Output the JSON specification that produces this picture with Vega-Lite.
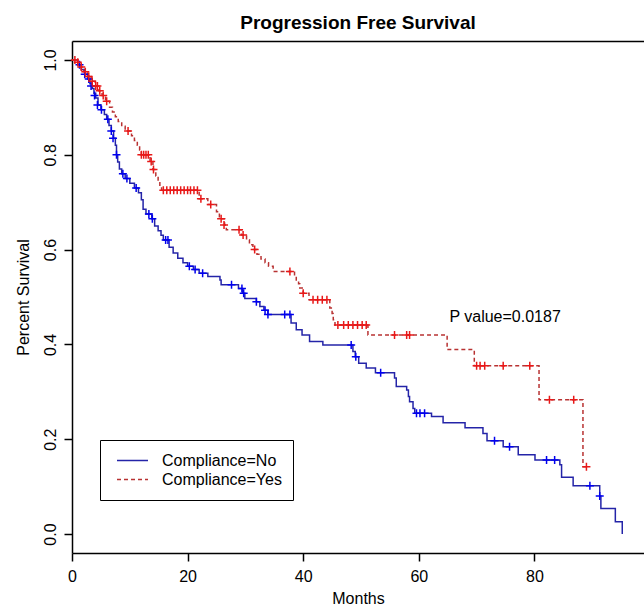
{
  "$schema": "https://vega.github.io/schema/vega-lite/v6.json",
  "width": 572,
  "height": 512,
  "autosize": {"type": "none"},
  "padding": {"left": 72, "top": 41, "right": 0, "bottom": 53},
  "background": "white",
  "config": {
    "view": {"stroke": null},
    "font": "Liberation Sans",
    "axis": {
      "grid": false,
      "domainColor": "black",
      "tickColor": "black",
      "labelColor": "black",
      "titleColor": "black",
      "labelFont": "Liberation Sans",
      "titleFont": "Liberation Sans",
      "labelFontSize": 16,
      "titleFontSize": 16,
      "titleFontWeight": "normal",
      "domainWidth": 1.5,
      "tickWidth": 1.5,
      "tickSize": 8
    }
  },
  "title": {
    "text": "Progression Free Survival",
    "fontSize": 19,
    "fontWeight": "bold",
    "font": "Liberation Sans",
    "anchor": "middle",
    "offset": 14,
    "dy": 21,
    "baseline": "alphabetic",
    "color": "black"
  },
  "datasets": {
    "curves": [
      {"g": "Compliance=No", "t": 0, "s": 1.0},
      {"g": "Compliance=No", "t": 1.0, "s": 0.99},
      {"g": "Compliance=No", "t": 1.6, "s": 0.98},
      {"g": "Compliance=No", "t": 2.2, "s": 0.97},
      {"g": "Compliance=No", "t": 2.7, "s": 0.96},
      {"g": "Compliance=No", "t": 3.1, "s": 0.95},
      {"g": "Compliance=No", "t": 3.5, "s": 0.94},
      {"g": "Compliance=No", "t": 3.8, "s": 0.93},
      {"g": "Compliance=No", "t": 4.1, "s": 0.92},
      {"g": "Compliance=No", "t": 4.5, "s": 0.905},
      {"g": "Compliance=No", "t": 5.0, "s": 0.895},
      {"g": "Compliance=No", "t": 5.6, "s": 0.885},
      {"g": "Compliance=No", "t": 6.0, "s": 0.875},
      {"g": "Compliance=No", "t": 6.4, "s": 0.862},
      {"g": "Compliance=No", "t": 6.8, "s": 0.85},
      {"g": "Compliance=No", "t": 7.2, "s": 0.835},
      {"g": "Compliance=No", "t": 7.5, "s": 0.82},
      {"g": "Compliance=No", "t": 7.7, "s": 0.80},
      {"g": "Compliance=No", "t": 7.9, "s": 0.785},
      {"g": "Compliance=No", "t": 8.2, "s": 0.77},
      {"g": "Compliance=No", "t": 8.6, "s": 0.76},
      {"g": "Compliance=No", "t": 9.2, "s": 0.75},
      {"g": "Compliance=No", "t": 10.0, "s": 0.74},
      {"g": "Compliance=No", "t": 10.8, "s": 0.73},
      {"g": "Compliance=No", "t": 11.5, "s": 0.72},
      {"g": "Compliance=No", "t": 12.0, "s": 0.705},
      {"g": "Compliance=No", "t": 12.3, "s": 0.685},
      {"g": "Compliance=No", "t": 12.8, "s": 0.675},
      {"g": "Compliance=No", "t": 13.8, "s": 0.665},
      {"g": "Compliance=No", "t": 14.3, "s": 0.65},
      {"g": "Compliance=No", "t": 14.9, "s": 0.64},
      {"g": "Compliance=No", "t": 15.4, "s": 0.63},
      {"g": "Compliance=No", "t": 15.8, "s": 0.62},
      {"g": "Compliance=No", "t": 16.8, "s": 0.605},
      {"g": "Compliance=No", "t": 17.5, "s": 0.593},
      {"g": "Compliance=No", "t": 18.3, "s": 0.582},
      {"g": "Compliance=No", "t": 19.2, "s": 0.572},
      {"g": "Compliance=No", "t": 20.0, "s": 0.565},
      {"g": "Compliance=No", "t": 21.0, "s": 0.558},
      {"g": "Compliance=No", "t": 22.0, "s": 0.55},
      {"g": "Compliance=No", "t": 23.5, "s": 0.543},
      {"g": "Compliance=No", "t": 25.6, "s": 0.536},
      {"g": "Compliance=No", "t": 25.8, "s": 0.526},
      {"g": "Compliance=No", "t": 28.8, "s": 0.518},
      {"g": "Compliance=No", "t": 29.5, "s": 0.508},
      {"g": "Compliance=No", "t": 29.9, "s": 0.497},
      {"g": "Compliance=No", "t": 31.9, "s": 0.49},
      {"g": "Compliance=No", "t": 32.5, "s": 0.48},
      {"g": "Compliance=No", "t": 33.2, "s": 0.472},
      {"g": "Compliance=No", "t": 33.9, "s": 0.463},
      {"g": "Compliance=No", "t": 37.9, "s": 0.445},
      {"g": "Compliance=No", "t": 38.8, "s": 0.431},
      {"g": "Compliance=No", "t": 39.8, "s": 0.42},
      {"g": "Compliance=No", "t": 41.1, "s": 0.406},
      {"g": "Compliance=No", "t": 43.4, "s": 0.399},
      {"g": "Compliance=No", "t": 48.6, "s": 0.385},
      {"g": "Compliance=No", "t": 49.0, "s": 0.374},
      {"g": "Compliance=No", "t": 49.6, "s": 0.36},
      {"g": "Compliance=No", "t": 50.9, "s": 0.35},
      {"g": "Compliance=No", "t": 52.5, "s": 0.34},
      {"g": "Compliance=No", "t": 55.8, "s": 0.329},
      {"g": "Compliance=No", "t": 56.1, "s": 0.311},
      {"g": "Compliance=No", "t": 57.9, "s": 0.304},
      {"g": "Compliance=No", "t": 58.2, "s": 0.29},
      {"g": "Compliance=No", "t": 58.4, "s": 0.279},
      {"g": "Compliance=No", "t": 59.0, "s": 0.265},
      {"g": "Compliance=No", "t": 59.3, "s": 0.255},
      {"g": "Compliance=No", "t": 62.2, "s": 0.248},
      {"g": "Compliance=No", "t": 64.2, "s": 0.235},
      {"g": "Compliance=No", "t": 68.0, "s": 0.224},
      {"g": "Compliance=No", "t": 71.1, "s": 0.212},
      {"g": "Compliance=No", "t": 71.8, "s": 0.197},
      {"g": "Compliance=No", "t": 74.6, "s": 0.184},
      {"g": "Compliance=No", "t": 77.2, "s": 0.167},
      {"g": "Compliance=No", "t": 80.1, "s": 0.156},
      {"g": "Compliance=No", "t": 84.4, "s": 0.146},
      {"g": "Compliance=No", "t": 84.7, "s": 0.12},
      {"g": "Compliance=No", "t": 86.7, "s": 0.102},
      {"g": "Compliance=No", "t": 91.3, "s": 0.08},
      {"g": "Compliance=No", "t": 91.5, "s": 0.054},
      {"g": "Compliance=No", "t": 94.0, "s": 0.026},
      {"g": "Compliance=No", "t": 95.2, "s": 0.0},
      {"g": "Compliance=Yes", "t": 0, "s": 1.0},
      {"g": "Compliance=Yes", "t": 0.8, "s": 0.995},
      {"g": "Compliance=Yes", "t": 1.3, "s": 0.985},
      {"g": "Compliance=Yes", "t": 2.0, "s": 0.975},
      {"g": "Compliance=Yes", "t": 2.7, "s": 0.965},
      {"g": "Compliance=Yes", "t": 3.3, "s": 0.955},
      {"g": "Compliance=Yes", "t": 4.0, "s": 0.945},
      {"g": "Compliance=Yes", "t": 4.6, "s": 0.935},
      {"g": "Compliance=Yes", "t": 5.2, "s": 0.925},
      {"g": "Compliance=Yes", "t": 5.8, "s": 0.913},
      {"g": "Compliance=Yes", "t": 6.5, "s": 0.90},
      {"g": "Compliance=Yes", "t": 7.0, "s": 0.89},
      {"g": "Compliance=Yes", "t": 7.5, "s": 0.88},
      {"g": "Compliance=Yes", "t": 8.0, "s": 0.87},
      {"g": "Compliance=Yes", "t": 8.6, "s": 0.86},
      {"g": "Compliance=Yes", "t": 9.2, "s": 0.85},
      {"g": "Compliance=Yes", "t": 10.3, "s": 0.84},
      {"g": "Compliance=Yes", "t": 10.8, "s": 0.83},
      {"g": "Compliance=Yes", "t": 11.3, "s": 0.82},
      {"g": "Compliance=Yes", "t": 11.7, "s": 0.81},
      {"g": "Compliance=Yes", "t": 12.0, "s": 0.80},
      {"g": "Compliance=Yes", "t": 13.5, "s": 0.786},
      {"g": "Compliance=Yes", "t": 14.0, "s": 0.769},
      {"g": "Compliance=Yes", "t": 14.5, "s": 0.755},
      {"g": "Compliance=Yes", "t": 14.9, "s": 0.744},
      {"g": "Compliance=Yes", "t": 15.2, "s": 0.733},
      {"g": "Compliance=Yes", "t": 15.5, "s": 0.725},
      {"g": "Compliance=Yes", "t": 22.0, "s": 0.707},
      {"g": "Compliance=Yes", "t": 23.5, "s": 0.695},
      {"g": "Compliance=Yes", "t": 25.0, "s": 0.68},
      {"g": "Compliance=Yes", "t": 25.5, "s": 0.665},
      {"g": "Compliance=Yes", "t": 26.4, "s": 0.652},
      {"g": "Compliance=Yes", "t": 26.7, "s": 0.642},
      {"g": "Compliance=Yes", "t": 29.3, "s": 0.631},
      {"g": "Compliance=Yes", "t": 30.2, "s": 0.621},
      {"g": "Compliance=Yes", "t": 30.7, "s": 0.61},
      {"g": "Compliance=Yes", "t": 31.3, "s": 0.60},
      {"g": "Compliance=Yes", "t": 32.0, "s": 0.59},
      {"g": "Compliance=Yes", "t": 32.7, "s": 0.58},
      {"g": "Compliance=Yes", "t": 33.4, "s": 0.572},
      {"g": "Compliance=Yes", "t": 34.0, "s": 0.565},
      {"g": "Compliance=Yes", "t": 34.8, "s": 0.554},
      {"g": "Compliance=Yes", "t": 38.5, "s": 0.545},
      {"g": "Compliance=Yes", "t": 38.8, "s": 0.536},
      {"g": "Compliance=Yes", "t": 39.2, "s": 0.528},
      {"g": "Compliance=Yes", "t": 39.4, "s": 0.519},
      {"g": "Compliance=Yes", "t": 40.0, "s": 0.508},
      {"g": "Compliance=Yes", "t": 41.0, "s": 0.494},
      {"g": "Compliance=Yes", "t": 44.6, "s": 0.477},
      {"g": "Compliance=Yes", "t": 45.0, "s": 0.465},
      {"g": "Compliance=Yes", "t": 45.2, "s": 0.452},
      {"g": "Compliance=Yes", "t": 45.5, "s": 0.441},
      {"g": "Compliance=Yes", "t": 51.2, "s": 0.42},
      {"g": "Compliance=Yes", "t": 64.9, "s": 0.389},
      {"g": "Compliance=Yes", "t": 69.6, "s": 0.355},
      {"g": "Compliance=Yes", "t": 80.8, "s": 0.283},
      {"g": "Compliance=Yes", "t": 88.4, "s": 0.142},
      {"g": "Compliance=Yes", "t": 89.0, "s": 0.142}
    ],
    "censor": [
      {"g": "Compliance=No", "t": 1.3, "s": 0.99},
      {"g": "Compliance=No", "t": 2.2, "s": 0.97},
      {"g": "Compliance=No", "t": 2.9, "s": 0.96},
      {"g": "Compliance=No", "t": 3.3, "s": 0.945},
      {"g": "Compliance=No", "t": 3.9, "s": 0.925},
      {"g": "Compliance=No", "t": 4.4, "s": 0.905},
      {"g": "Compliance=No", "t": 5.1, "s": 0.895},
      {"g": "Compliance=No", "t": 6.2, "s": 0.875},
      {"g": "Compliance=No", "t": 6.8, "s": 0.85},
      {"g": "Compliance=No", "t": 7.1, "s": 0.835},
      {"g": "Compliance=No", "t": 7.7, "s": 0.80},
      {"g": "Compliance=No", "t": 8.8, "s": 0.76},
      {"g": "Compliance=No", "t": 9.5, "s": 0.75},
      {"g": "Compliance=No", "t": 11.1, "s": 0.73},
      {"g": "Compliance=No", "t": 13.3, "s": 0.675},
      {"g": "Compliance=No", "t": 13.9, "s": 0.665},
      {"g": "Compliance=No", "t": 16.2, "s": 0.62},
      {"g": "Compliance=No", "t": 16.6, "s": 0.62},
      {"g": "Compliance=No", "t": 20.3, "s": 0.565},
      {"g": "Compliance=No", "t": 21.3, "s": 0.558},
      {"g": "Compliance=No", "t": 22.6, "s": 0.55},
      {"g": "Compliance=No", "t": 27.6, "s": 0.526},
      {"g": "Compliance=No", "t": 29.4, "s": 0.518},
      {"g": "Compliance=No", "t": 29.7, "s": 0.508},
      {"g": "Compliance=No", "t": 31.9, "s": 0.49},
      {"g": "Compliance=No", "t": 33.4, "s": 0.472},
      {"g": "Compliance=No", "t": 33.9, "s": 0.463},
      {"g": "Compliance=No", "t": 36.8, "s": 0.463},
      {"g": "Compliance=No", "t": 37.7, "s": 0.463},
      {"g": "Compliance=No", "t": 48.3, "s": 0.399},
      {"g": "Compliance=No", "t": 49.1, "s": 0.374},
      {"g": "Compliance=No", "t": 53.4, "s": 0.34},
      {"g": "Compliance=No", "t": 59.6, "s": 0.255},
      {"g": "Compliance=No", "t": 60.2, "s": 0.255},
      {"g": "Compliance=No", "t": 61.0, "s": 0.255},
      {"g": "Compliance=No", "t": 73.1, "s": 0.197},
      {"g": "Compliance=No", "t": 75.7, "s": 0.184},
      {"g": "Compliance=No", "t": 82.1, "s": 0.156},
      {"g": "Compliance=No", "t": 83.5, "s": 0.156},
      {"g": "Compliance=No", "t": 89.6, "s": 0.102},
      {"g": "Compliance=No", "t": 91.3, "s": 0.08},
      {"g": "Compliance=Yes", "t": 0.5, "s": 1.0},
      {"g": "Compliance=Yes", "t": 1.0, "s": 0.995},
      {"g": "Compliance=Yes", "t": 1.6, "s": 0.985},
      {"g": "Compliance=Yes", "t": 2.3, "s": 0.975},
      {"g": "Compliance=Yes", "t": 2.9, "s": 0.965},
      {"g": "Compliance=Yes", "t": 3.5, "s": 0.955},
      {"g": "Compliance=Yes", "t": 4.1, "s": 0.945},
      {"g": "Compliance=Yes", "t": 4.4, "s": 0.945},
      {"g": "Compliance=Yes", "t": 4.8, "s": 0.935},
      {"g": "Compliance=Yes", "t": 5.4, "s": 0.925},
      {"g": "Compliance=Yes", "t": 6.0, "s": 0.913},
      {"g": "Compliance=Yes", "t": 9.7, "s": 0.85},
      {"g": "Compliance=Yes", "t": 12.0, "s": 0.80},
      {"g": "Compliance=Yes", "t": 12.4, "s": 0.80},
      {"g": "Compliance=Yes", "t": 12.8, "s": 0.80},
      {"g": "Compliance=Yes", "t": 13.2, "s": 0.80},
      {"g": "Compliance=Yes", "t": 13.7, "s": 0.786},
      {"g": "Compliance=Yes", "t": 14.1, "s": 0.769},
      {"g": "Compliance=Yes", "t": 15.8, "s": 0.725},
      {"g": "Compliance=Yes", "t": 16.4, "s": 0.725},
      {"g": "Compliance=Yes", "t": 17.0, "s": 0.725},
      {"g": "Compliance=Yes", "t": 17.6, "s": 0.725},
      {"g": "Compliance=Yes", "t": 18.2, "s": 0.725},
      {"g": "Compliance=Yes", "t": 18.8, "s": 0.725},
      {"g": "Compliance=Yes", "t": 19.4, "s": 0.725},
      {"g": "Compliance=Yes", "t": 20.0, "s": 0.725},
      {"g": "Compliance=Yes", "t": 20.5, "s": 0.725},
      {"g": "Compliance=Yes", "t": 21.1, "s": 0.725},
      {"g": "Compliance=Yes", "t": 21.7, "s": 0.725},
      {"g": "Compliance=Yes", "t": 22.3, "s": 0.707},
      {"g": "Compliance=Yes", "t": 24.0, "s": 0.695},
      {"g": "Compliance=Yes", "t": 25.8, "s": 0.665},
      {"g": "Compliance=Yes", "t": 26.3, "s": 0.652},
      {"g": "Compliance=Yes", "t": 28.9, "s": 0.642},
      {"g": "Compliance=Yes", "t": 29.6, "s": 0.631},
      {"g": "Compliance=Yes", "t": 31.6, "s": 0.60},
      {"g": "Compliance=Yes", "t": 37.7, "s": 0.554},
      {"g": "Compliance=Yes", "t": 40.0, "s": 0.508},
      {"g": "Compliance=Yes", "t": 41.7, "s": 0.494},
      {"g": "Compliance=Yes", "t": 42.5, "s": 0.494},
      {"g": "Compliance=Yes", "t": 43.3, "s": 0.494},
      {"g": "Compliance=Yes", "t": 44.1, "s": 0.494},
      {"g": "Compliance=Yes", "t": 46.0, "s": 0.441},
      {"g": "Compliance=Yes", "t": 47.0, "s": 0.441},
      {"g": "Compliance=Yes", "t": 47.8, "s": 0.441},
      {"g": "Compliance=Yes", "t": 48.6, "s": 0.441},
      {"g": "Compliance=Yes", "t": 49.4, "s": 0.441},
      {"g": "Compliance=Yes", "t": 50.2, "s": 0.441},
      {"g": "Compliance=Yes", "t": 50.9, "s": 0.441},
      {"g": "Compliance=Yes", "t": 55.8, "s": 0.42},
      {"g": "Compliance=Yes", "t": 57.9, "s": 0.42},
      {"g": "Compliance=Yes", "t": 58.4, "s": 0.42},
      {"g": "Compliance=Yes", "t": 70.0, "s": 0.355},
      {"g": "Compliance=Yes", "t": 70.6, "s": 0.355},
      {"g": "Compliance=Yes", "t": 71.4, "s": 0.355},
      {"g": "Compliance=Yes", "t": 74.6, "s": 0.355},
      {"g": "Compliance=Yes", "t": 79.2, "s": 0.355},
      {"g": "Compliance=Yes", "t": 82.6, "s": 0.283},
      {"g": "Compliance=Yes", "t": 86.8, "s": 0.283},
      {"g": "Compliance=Yes", "t": 89.0, "s": 0.142}
    ],
    "note": [
      {"t": 65.3, "s": 0.458, "label": "P value=0.0187"}
    ]
  },
  "layer": [
    {
      "data": {"name": "curves"},
      "mark": {"type": "line", "interpolate": "step-after", "strokeWidth": 1.5},
      "encoding": {
        "x": {
          "field": "t", "type": "quantitative",
          "scale": {"domain": [0, 98.96], "nice": false, "zero": false},
          "axis": {"values": [0, 20, 40, 60, 80], "format": "d", "title": "Months", "labelPadding": 7, "titlePadding": 6, "labelFlush": false}
        },
        "y": {
          "field": "s", "type": "quantitative",
          "scale": {"domain": [-0.04, 1.04], "nice": false, "zero": false},
          "axis": {"values": [0, 0.2, 0.4, 0.6, 0.8, 1], "format": ".1f", "title": "Percent Survival", "labelAngle": -90, "labelAlign": "center", "labelBaseline": "bottom", "labelPadding": 6, "titlePadding": 11, "labelFlush": false}
        },
        "color": {
          "field": "g", "type": "nominal",
          "scale": {"domain": ["Compliance=No", "Compliance=Yes"], "range": ["#2424A8", "#B83232"]},
          "legend": {"title": null, "orient": "none", "legendX": 28, "legendY": 399, "direction": "vertical", "strokeColor": "black", "fillColor": "white", "padding": 11, "clipHeight": 19, "symbolType": "stroke", "symbolSize": 961, "symbolStrokeWidth": 1.5, "symbolOffset": 5, "labelFontSize": 16, "labelFont": "Liberation Sans", "labelColor": "black", "labelOffset": 13, "rowPadding": 0, "labelLimit": 300}
        },
        "strokeDash": {
          "field": "g", "type": "nominal",
          "scale": {"domain": ["Compliance=No", "Compliance=Yes"], "range": [[1, 0], [4, 3]]},
          "legend": {"title": null, "orient": "none", "legendX": 28, "legendY": 399, "direction": "vertical", "strokeColor": "black", "fillColor": "white", "padding": 11, "clipHeight": 19, "symbolType": "stroke", "symbolSize": 961, "symbolStrokeWidth": 1.5, "symbolOffset": 5, "labelFontSize": 16, "labelFont": "Liberation Sans", "labelColor": "black", "labelOffset": 13, "rowPadding": 0, "labelLimit": 300}
        },
        "order": {"field": "t", "type": "quantitative"}
      }
    },
    {
      "data": {"name": "censor"},
      "mark": {"type": "point", "shape": "M-1,0H1M0,-1V1", "filled": false, "size": 64, "strokeWidth": 1.5, "opacity": 1},
      "encoding": {
        "x": {"field": "t", "type": "quantitative", "axis": null},
        "y": {"field": "s", "type": "quantitative"},
        "stroke": {
          "field": "g", "type": "nominal",
          "scale": {"domain": ["Compliance=No", "Compliance=Yes"], "range": ["#0000EE", "#E81818"]},
          "legend": null
        }
      }
    },
    {
      "data": {"name": "note"},
      "mark": {"type": "text", "align": "left", "baseline": "middle", "fontSize": 16, "font": "Liberation Sans", "color": "black"},
      "encoding": {
        "x": {"field": "t", "type": "quantitative", "axis": {"orient": "top", "labels": false, "ticks": false, "title": null, "domain": true}},
        "y": {"field": "s", "type": "quantitative"},
        "text": {"field": "label"}
      }
    }
  ],
  "resolve": {"axis": {"x": "independent"}}
}
